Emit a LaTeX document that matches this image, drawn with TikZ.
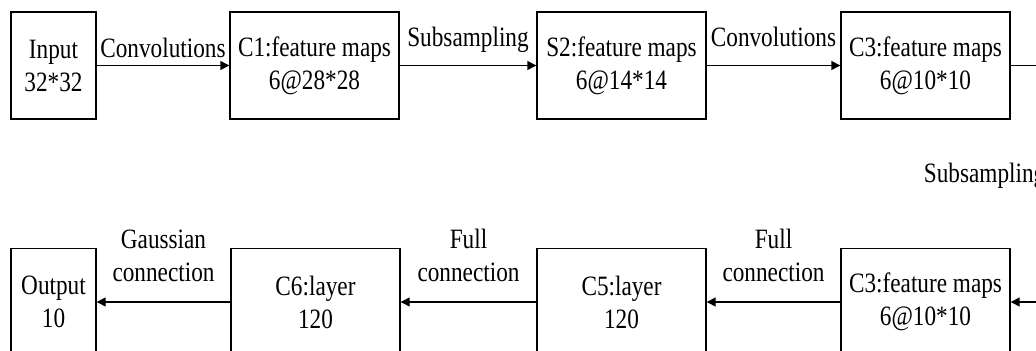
\documentclass[tikz,border=0pt]{standalone}
\usepackage{fontspec}
\setmainfont{Liberation Serif}
\usepackage{graphicx}
\usepackage{tikz}
\usetikzlibrary{calc,arrows.meta,positioning}

% narrow the letters a little
\newcommand{\nt}[1]{\scalebox{0.83}[1]{#1}}

\begin{document}
\begin{tikzpicture}[x=0.5pt,y=-0.5pt,
  txt/.style={font=\fontsize{14}{16.5}\selectfont,align=center},
  layer/.style={txt,draw,line width=0.7pt,inner sep=0pt,minimum height=53.5pt},
  wide/.style={layer,minimum width=84.5pt},
  thin/.style={layer,minimum width=42.5pt},
  arr/.style={line width=0.7pt,-{Triangle[length=4.5pt,width=4.5pt]}},
  lbl/.style={txt,inner sep=0pt}]
\useasboundingbox (0,0) rectangle (1036,351);
\clip (0,0) rectangle (1036,351);

% top row
\node[thin] (inp) at (53.5,65.5) {\nt{Input}\\\nt{32*32}};
\foreach \n/\x/\a/\b in {c1/314.5/C1:feature maps/6@28*28, s2/621.5/S2:feature maps/6@14*14, c3a/925.5/C3:feature maps/6@10*10}{
  \node[wide] (\n) at (\x,65.5) {\nt{\a}\\\nt{\b}};
}

% bottom row
\node[thin] (out) at (53.5,302) {\nt{Output}\\\nt{10}};
\foreach \n/\x/\a/\b in {c6/315.5/C6:layer/120, c5/621.5/C5:layer/120, c3b/925.5/C3:feature maps/6@10*10}{
  \node[wide] (\n) at (\x,302) {\nt{\a}\\\nt{\b}};
}

\draw[arr] (inp) -- node[lbl,anchor=base,yshift=4pt] {\nt{Convolutions}} (c1);
\draw[arr] (c1) -- node[lbl,anchor=base,yshift=9.5pt] {\nt{Subsampling}} (s2);
\draw[arr] (s2) -- node[lbl,anchor=base,yshift=9.5pt] {\nt{Convolutions}} (c3a);

% turn round on the right
\coordinate (bend1) at (1054,65.5);
\coordinate (bend2) at (1054,302);
\draw[arr] (c3a) -- (bend1) -- node[lbl,anchor=east,xshift=-4pt,yshift=4pt] {\nt{Subsampling}} (bend2) -- (c3b);

\draw[arr] (c3b) -- node[lbl,anchor=south,yshift=10pt] {\nt{Full}\\\nt{connection}} (c5);
\draw[arr] (c5) -- node[lbl,anchor=south,yshift=10pt] {\nt{Full}\\\nt{connection}} (c6);
\draw[arr] (c6) -- node[lbl,anchor=south,yshift=10pt] {\nt{Gaussian}\\\nt{connection}} (out);
\end{tikzpicture}
\end{document}
